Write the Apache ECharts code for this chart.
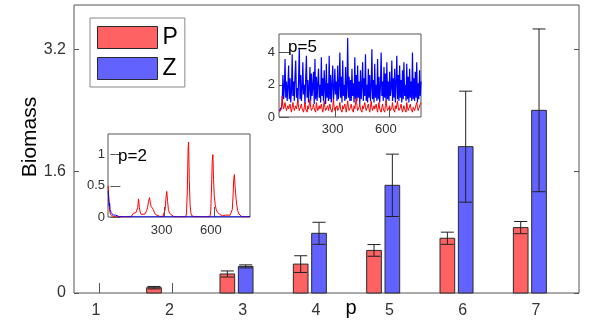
<!DOCTYPE html>
<html>
<head>
	<meta charset="utf-8">
	<title>Biomass</title>
	<script src="https://cdn.jsdelivr.net/npm/echarts@6/dist/echarts.min.js"></script>
	<style type="text/css">
		html, body { margin: 0; padding: 0; background-color: #fff; }
		#chartBox { width: 597px; height: 328px; }
	</style>
</head>
<body>
<div id="chartBox"></div>

<script>
	// 柱状图数据
	var cats = [1, 2, 3, 4, 5, 6, 7];
	var pMean = [0, 0.07, 0.25, 0.38, 0.56, 0.72, 0.86];
	var pErr = [0, 0.016, 0.04, 0.11, 0.077, 0.08, 0.08];
	var zMean = [0, 0, 0.35, 0.785, 1.416, 1.924, 2.402];
	var zErr = [0, 0, 0.02, 0.145, 0.41, 0.73, 1.07];
	var yTicks = [0, 1.6, 3.2];

	// 小图 p=2 (时间, 值)
	var red2 = [[-44,0.5],[-40,0.3],[-36,0.12],[-30,0.04],[-22,0.015],[-10,0.005],[40,0.003],[95,0.004],[103,0.03],[110,0.06],[118,0.05],[125,0.07],[131,0.05],[136,0.15],[141,0.29],[146,0.15],[151,0.08],[158,0.04],[170,0.03],[181,0.05],[190,0.1],[196,0.15],[202,0.25],[208,0.31],[213,0.22],[218,0.17],[222,0.2],[226,0.19],[231,0.12],[236,0.08],[244,0.04],[253,0.02],[270,0.01],[290,0.01],[298,0.04],[303,0.12],[308,0.3],[313,0.41],[318,0.25],[323,0.12],[330,0.06],[340,0.03],[354,0.01],[380,0.003],[428,0.003],[433,0.05],[438,0.4],[443,1.1],[446,1.2],[450,0.6],[455,0.2],[460,0.06],[466,0.02],[480,0.005],[560,0.003],[576,0.01],[581,0.1],[586,0.5],[590,0.9],[594,1.0],[598,0.6],[602,0.35],[608,0.2],[614,0.12],[621,0.08],[628,0.06],[636,0.04],[643,0.02],[648,0.03],[653,0.02],[658,0.04],[665,0.02],[672,0.03],[679,0.02],[686,0.03],[693,0.02],[699,0.03],[706,0.05],[712,0.12],[717,0.35],[721,0.6],[725,0.68],[729,0.5],[735,0.3],[740,0.18],[745,0.1],[752,0.05],[760,0.02],[770,0.005],[790,0.003],[820,0.003]];
	var blue2 = [[-44,0.42],[-41,0.3],[-38,0.18],[-35,0.22],[-32,0.12],[-29,0.15],[-26,0.07],[-23,0.1],[-20,0.04],[-16,0.06],[-12,0.03],[-8,0.05],[-4,0.02],[2,0.03],[10,0.01],[25,0.005],[60,0.003],[820,0.003]];

	// 小图 p=5，采样起点和步长
	var t5Start = -16, t5Step = 4;
	var blue5 = [0.4,0.5,0.45,0.6,0.9,2.6,1.1,1.8,3.6,1.2,
		2.2,1.0,1.9,3.2,1.1,2.4,0.9,1.6,3.9,1.3,
		2.2,1.0,2.6,3.5,1.2,1.8,0.9,2.3,4.3,1.1,
		2.6,1.0,1.7,3.4,1.4,2.0,0.8,2.4,3.8,1.2,
		2.3,0.9,1.8,3.1,1.0,2.7,1.3,1.9,2.8,0.8,
		3.6,1.1,2.5,1.0,2.1,3.0,1.2,2.0,0.9,3.7,
		1.3,2.4,1.0,2.9,1.8,0.8,3.3,1.2,2.1,1.0,
		3.8,1.1,2.6,0.9,2.0,3.2,1.0,1.7,3.0,1.4,
		2.2,1.0,3.2,1.1,1.9,4.0,1.2,2.5,0.9,3.5,
		1.3,2.0,1.0,3.1,1.1,1.8,4.9,1.2,2.5,1.0,
		2.3,1.0,3.0,1.3,2.1,0.9,3.7,1.1,2.6,1.0,
		3.2,1.2,2.2,0.8,2.9,1.1,1.9,3.4,1.0,2.4,
		1.3,3.9,1.0,2.0,0.9,3.0,1.2,2.6,1.0,1.8,
		4.2,1.1,2.3,0.9,3.3,1.2,2.0,1.0,3.6,1.1,
		2.5,0.9,1.9,4.0,1.3,2.2,1.0,3.1,1.2,2.7,
		0.9,3.4,1.1,2.2,1.0,2.8,1.3,1.8,3.5,1.0,
		2.4,1.2,3.0,0.9,2.1,3.8,1.1,2.6,1.0,3.2,
		1.2,2.3,0.9,2.9,1.1,3.4,1.3,2.0,1.0,3.3,
		1.1,2.5,0.9,3.0,1.2,2.2,1.0,4.0,1.1,2.4,
		1.0,2.8,1.2,3.4,0.9,2.1,1.1,2.9,1.3,2.2];
	var red5 = [0.3,0.3,0.35,0.5,1.3,0.7,0.5,0.4,0.9,0.6,
		0.4,0.3,0.7,0.5,0.4,0.8,0.5,0.3,0.6,0.9,
		0.6,0.4,0.3,0.7,0.5,0.4,1.0,0.6,0.4,0.3,
		0.5,0.8,0.5,0.4,0.3,0.6,0.9,0.5,0.4,0.3,
		0.7,0.5,0.4,1.1,0.6,0.4,0.3,0.6,0.8,0.5,
		0.4,0.3,0.9,0.6,0.4,0.3,0.7,0.5,0.4,0.8,
		0.5,0.3,0.6,1.0,0.6,0.4,0.3,0.5,0.7,0.4,
		0.3,0.8,0.5,0.4,0.3,0.6,1.1,0.6,0.4,0.3,
		0.5,0.7,0.4,0.3,0.6,0.9,0.5,0.4,0.3,0.7,
		0.5,0.4,0.8,0.6,0.3,0.4,1.0,0.6,0.4,0.3,
		0.6,0.8,0.5,0.4,0.3,0.7,0.5,0.4,1.2,0.7,
		0.4,0.3,0.6,0.8,0.5,0.4,0.3,0.7,0.5,0.4,
		0.9,0.6,0.4,0.3,0.5,0.8,0.5,0.3,0.6,1.0,
		0.6,0.4,0.3,0.7,0.5,0.4,0.8,0.5,0.3,0.6,
		0.9,0.5,0.4,0.3,0.6,0.8,0.5,0.4,0.3,0.7,
		1.0,0.6,0.4,0.3,0.5,0.7,0.4,0.3,0.6,0.9,
		0.5,0.4,0.3,0.7,0.5,0.4,1.0,0.6,0.4,0.3,
		0.6,0.8,0.5,0.3,0.4,0.7,0.5,0.4,0.3,0.9,
		0.6,0.4,0.3,0.5,0.8,0.5,0.4,0.3,0.6,0.7,
		0.4,0.3,0.5,0.9,0.6,0.4,0.3,0.5,0.8,0.9];
	var insetXTicks = [300, 600];

	var redFill = '#ff6262';
	var blueFill = '#6262ff';
	var lineC = '#555';
	var font = 'Liberation Sans, Arial, sans-serif';

	function timeSeries(vals) {
		return vals.map(function (v, i) { return [t5Start + i * t5Step, v]; });
	}

	// 柱子，高度为0的不画
	function barItem(offset, color) {
		return function (params, api) {
			var x = api.value(0) + offset, y = api.value(1);
			if (!(y > 0)) return null;
			var a = api.coord([x - 0.1, 0]);
			var b = api.coord([x + 0.1, y]);
			return {
				type: 'rect',
				shape: { x: a[0], y: b[1], width: b[0] - a[0], height: a[1] - b[1] },
				style: { fill: color, stroke: '#2a2a2a', lineWidth: 1 }
			};
		};
	}

	// 误差线
	function errItem(offset) {
		return function (params, api) {
			if (!(api.value(2) > api.value(1))) return null;
			var x = api.value(0) + offset;
			var lo = api.coord([x, api.value(1)]);
			var hi = api.coord([x, api.value(2)]);
			var st = { stroke: '#222', lineWidth: 1 };
			return {
				type: 'group',
				children: [
					{ type: 'line', shape: { x1: lo[0], y1: lo[1], x2: hi[0], y2: hi[1] }, style: st },
					{ type: 'line', shape: { x1: hi[0] - 6.5, y1: hi[1], x2: hi[0] + 6.5, y2: hi[1] }, style: st },
					{ type: 'line', shape: { x1: lo[0] - 6.5, y1: lo[1], x2: lo[0] + 6.5, y2: lo[1] }, style: st }
				]
			};
		};
	}

	// 只有文字的轴
	function labelAxis(idx, pos, min, max, ticks, fs, margin, extra) {
		var ax = {
			type: 'value', gridIndex: idx, position: pos, min: min, max: max,
			axisLine: { show: false }, splitLine: { show: false }, axisTick: { show: false },
			axisLabel: { customValues: ticks, fontSize: fs, color: '#333', fontFamily: font, margin: margin }
		};
		if (extra) { for (var k in extra) ax.axisLabel[k] = extra[k]; }
		return ax;
	}

	// 只有刻度的轴，往里挪5px，刻度朝外画，看起来就是朝内
	function tickAxis(idx, pos, min, max, ticks) {
		return {
			type: 'value', gridIndex: idx, position: pos, min: min, max: max, offset: -5,
			axisLine: { show: false }, splitLine: { show: false }, axisLabel: { show: false },
			axisTick: { show: true, inside: false, length: 5, customValues: ticks, lineStyle: { color: lineC } }
		};
	}

	function xAxes(idx, min, max, ticks, fs, margin) {
		return [
			labelAxis(idx, 'bottom', min, max, ticks, fs, margin, { padding: [0, 6, 0, 0] }),
			tickAxis(idx, 'bottom', min, max, ticks),
			tickAxis(idx, 'top', min, max, ticks)
		];
	}

	function yAxes(idx, min, max, ticks, fs, margin) {
		return [
			labelAxis(idx, 'left', min, max, ticks, fs, margin),
			tickAxis(idx, 'left', min, max, ticks),
			tickAxis(idx, 'right', min, max, ticks)
		];
	}

	var pBars = cats.map(function (c, i) { return [c, pMean[i]]; });
	var zBars = cats.map(function (c, i) { return [c, zMean[i]]; });
	var pErrs = cats.map(function (c, i) { return [c, pMean[i] - pErr[i], pMean[i] + pErr[i]]; });
	var zErrs = cats.map(function (c, i) { return [c, zMean[i] - zErr[i], zMean[i] + zErr[i]]; });

	var myChart = echarts.init(document.getElementById('chartBox'));
	var options = {
		animation: false,
		grid: [
			{ left: 74, top: 5, width: 505, height: 288, show: true, borderColor: lineC, borderWidth: 1, backgroundColor: '#fff' },
			{ left: 108, top: 134, width: 142, height: 83, show: true, borderColor: lineC, borderWidth: 1, backgroundColor: '#fff' },
			{ left: 279, top: 34, width: 142, height: 83, show: true, borderColor: lineC, borderWidth: 1, backgroundColor: '#fff' }
		],
		// 下标 0 / 3 / 6 是带文字的轴
		xAxis: [].concat(
			xAxes(0, 0.659, 7.545, cats, 16, 10),
			xAxes(1, -45, 820, insetXTicks, 13, 7),
			xAxes(2, -18, 780, insetXTicks, 13, 6)
		),
		yAxis: [].concat(
			yAxes(0, 0, 3.787, yTicks, 16, 8),
			yAxes(1, 0, 1.33, [0, 0.5, 1], 13, 3),
			yAxes(2, 0, 5.15, [0, 2, 4], 13, 4)
		),
		legend: {
			data: [
				{ name: 'P', icon: 'rect', itemStyle: { color: redFill, borderColor: '#2a2a2a', borderWidth: 1 } },
				{ name: 'Z', icon: 'rect', itemStyle: { color: blueFill, borderColor: '#2a2a2a', borderWidth: 1 } }
			],
			orient: 'vertical',
			left: 90, top: 18,
			padding: [8, 7, 7, 7],
			itemWidth: 60, itemHeight: 22, itemGap: 8,
			backgroundColor: '#fff', borderColor: '#888', borderWidth: 1,
			selectedMode: false,
			textStyle: { fontSize: 23, color: '#000', fontFamily: font, lineHeight: 22 }
		},
		graphic: [
			{ type: 'text', x: 30.5, y: 137, rotation: Math.PI / 2, style: { text: 'Biomass', fontSize: 21, fontFamily: font, fill: '#000', align: 'center', verticalAlign: 'middle' } },
			{ type: 'text', x: 351, y: 308.5, style: { text: 'p', fontSize: 20, fontFamily: font, fill: '#000', align: 'center', verticalAlign: 'middle' } },
			{ type: 'text', x: 118, y: 156, z: 10, style: { text: 'p=2', fontSize: 17, fontFamily: font, fill: '#000', align: 'left', verticalAlign: 'middle' } },
			{ type: 'text', x: 288, y: 47.5, z: 10, style: { text: 'p=5', fontSize: 17, fontFamily: font, fill: '#000', align: 'left', verticalAlign: 'middle' } }
		],
		series: [
			{ name: 'P', type: 'custom', xAxisIndex: 0, yAxisIndex: 0, renderItem: barItem(-0.25, redFill), data: pBars, itemStyle: { color: redFill } },
			{ name: 'Z', type: 'custom', xAxisIndex: 0, yAxisIndex: 0, renderItem: barItem(0, blueFill), data: zBars, itemStyle: { color: blueFill } },
			{ name: 'Perr', type: 'custom', xAxisIndex: 0, yAxisIndex: 0, renderItem: errItem(-0.25), data: pErrs, z: 3 },
			{ name: 'Zerr', type: 'custom', xAxisIndex: 0, yAxisIndex: 0, renderItem: errItem(0), data: zErrs, z: 3 },
			{ name: 'P2', type: 'line', xAxisIndex: 3, yAxisIndex: 3, data: red2, showSymbol: false, lineStyle: { color: '#ff0000', width: 1 }, z: 4 },
			{ name: 'Z2', type: 'line', xAxisIndex: 3, yAxisIndex: 3, data: blue2, showSymbol: false, lineStyle: { color: '#0000ff', width: 1 }, z: 5 },
			{ name: 'Z5', type: 'line', xAxisIndex: 6, yAxisIndex: 6, data: timeSeries(blue5), showSymbol: false, lineStyle: { color: '#0000ff', width: 1.2 }, z: 4 },
			{ name: 'P5', type: 'line', xAxisIndex: 6, yAxisIndex: 6, data: timeSeries(red5), showSymbol: false, lineStyle: { color: '#ff0000', width: 1 }, z: 5 }
		]
	};
	myChart.setOption(options);
</script>
</body>
</html>
